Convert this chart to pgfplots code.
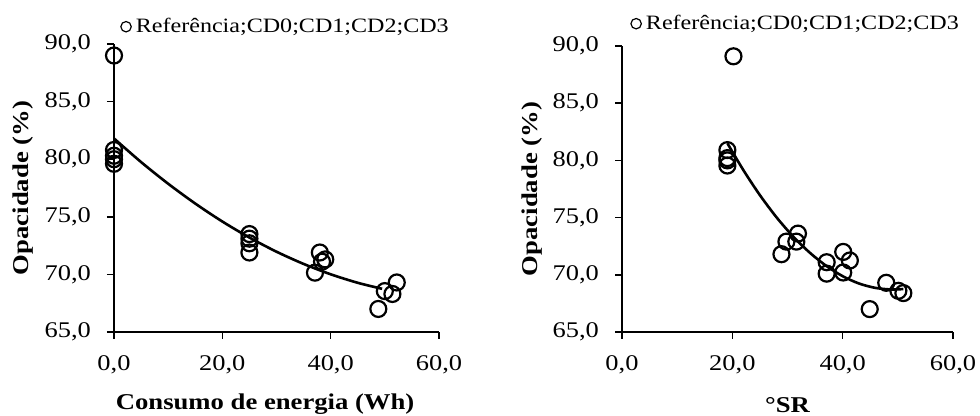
\documentclass[border=0pt]{standalone}
\usepackage{fontspec}
\setmainfont{Liberation Serif}[FakeStretch=1.18]
\usepackage{pgfplots}
\pgfplotsset{compat=1.18}

\tikzset{lbl/.style={font=\fontsize{11.3}{13}\selectfont\bfseries}}

\pgfplotsset{
  opac/.style={
    scale only axis,
    axis x line=bottom, axis y line=left,
    axis line style={-, line width=0.75pt},
    every tick/.style={line width=0.75pt, black},
    tick align=outside, major tick length=3.5pt,
    xmin=0, xmax=60, ymin=65, ymax=90,
    xtick={0,20,40,60}, ytick={65,70,...,90},
    /pgf/number format/.cd, fixed, fixed zerofill, precision=1, use comma, assume math mode=true,
    /pgfplots/.cd,
    tick label style={font=\fontsize{11.2}{13}\selectfont},
    yticklabel style={xshift=-4.5pt},
    xticklabel style={yshift=-5pt},
    clip=false,
    legend style={draw=none, fill=none, inner sep=0pt, anchor=west,
      font=\fontsize{10.2}{12}\selectfont},
    legend cell align=left,
    legend image code/.code={\draw[line width=0.6pt] (2.6pt,0pt) circle (2.6pt);},
  },
  pts/.style={only marks, mark=o, mark size=4pt, mark options={line width=1.1pt}, black},
  fit/.style={no marks, smooth, line width=1.3pt, black},
}

\begin{document}
\begin{tikzpicture}
% Opacidade vs consumo de energia
\begin{axis}[opac,
  at={(57pt,42pt)}, anchor=south west,
  width=162.5pt, height=144pt,
  xlabel={Consumo de energia (Wh)}, ylabel={Opacidade (\%)},
  every axis x label/.style={lbl, at={(axis description cs:0.465,-0.25)}, anchor=center},
  every axis y label/.style={lbl, at={(axis description cs:-0.28,0.5)}, rotate=90, anchor=center},
  legend style={at={(axis description cs:0.018,1.060)}},
]
\addplot[pts] coordinates {
  (0,89.0) (0,80.8) (0,80.3) (0,80.0) (0,79.6)
  (25,73.5) (25,73.1) (25,72.7) (25,71.9)
  (37.1,70.15) (38.0,71.9) (38.4,71.1) (39.0,71.3)
  (48.8,67.0) (50.0,68.55) (51.4,68.3) (52.2,69.3)
};
\addlegendentry{Referência;CD0;CD1;CD2;CD3}
\addplot[fit, forget plot] coordinates {
  (0,81.8) (5,79.75) (10,77.87) (15,76.15) (20,74.59) (25,73.2)
  (30,71.97) (35,70.91) (40,70.01) (45,69.27) (49.5,68.75)
};
\end{axis}

% Opacidade vs grau Schopper-Riegler
\begin{axis}[opac,
  at={(311pt,42pt)}, anchor=south west,
  width=165.5pt, height=143pt,
  xlabel={°SR}, ylabel={Opacidade (\%)},
  every axis x label/.style={lbl, at={(axis description cs:0.5,-0.254)}, anchor=center},
  every axis y label/.style={lbl, at={(axis description cs:-0.272,0.5)}, rotate=90, anchor=center},
  legend style={at={(axis description cs:0.024,1.078)}},
]
\addplot[pts] coordinates {
  (20.2,89.1) (19.1,80.9) (19.1,80.2) (19.1,80.0) (19.1,79.55)
  (28.9,71.8) (29.8,72.9) (31.9,73.6) (31.6,72.9)
  (37.1,71.1) (37.1,70.1) (40.1,72.0) (41.3,71.25) (40.1,70.2)
  (44.9,67.0) (47.9,69.3) (50.1,68.6) (51.0,68.4)
};
\addlegendentry{Referência;CD0;CD1;CD2;CD3}
\addplot[fit, forget plot] coordinates {
  (19.1,81.5) (22,79.15) (25,76.96) (28,75.03) (31,73.36) (34,71.95)
  (37,70.79) (40,69.88) (43,69.23) (46,68.85) (49,68.71) (51,68.76)
};
\end{axis}
\pgfresetboundingbox
\useasboundingbox (0,0) rectangle (490pt,208pt);
\end{tikzpicture}
\end{document}
